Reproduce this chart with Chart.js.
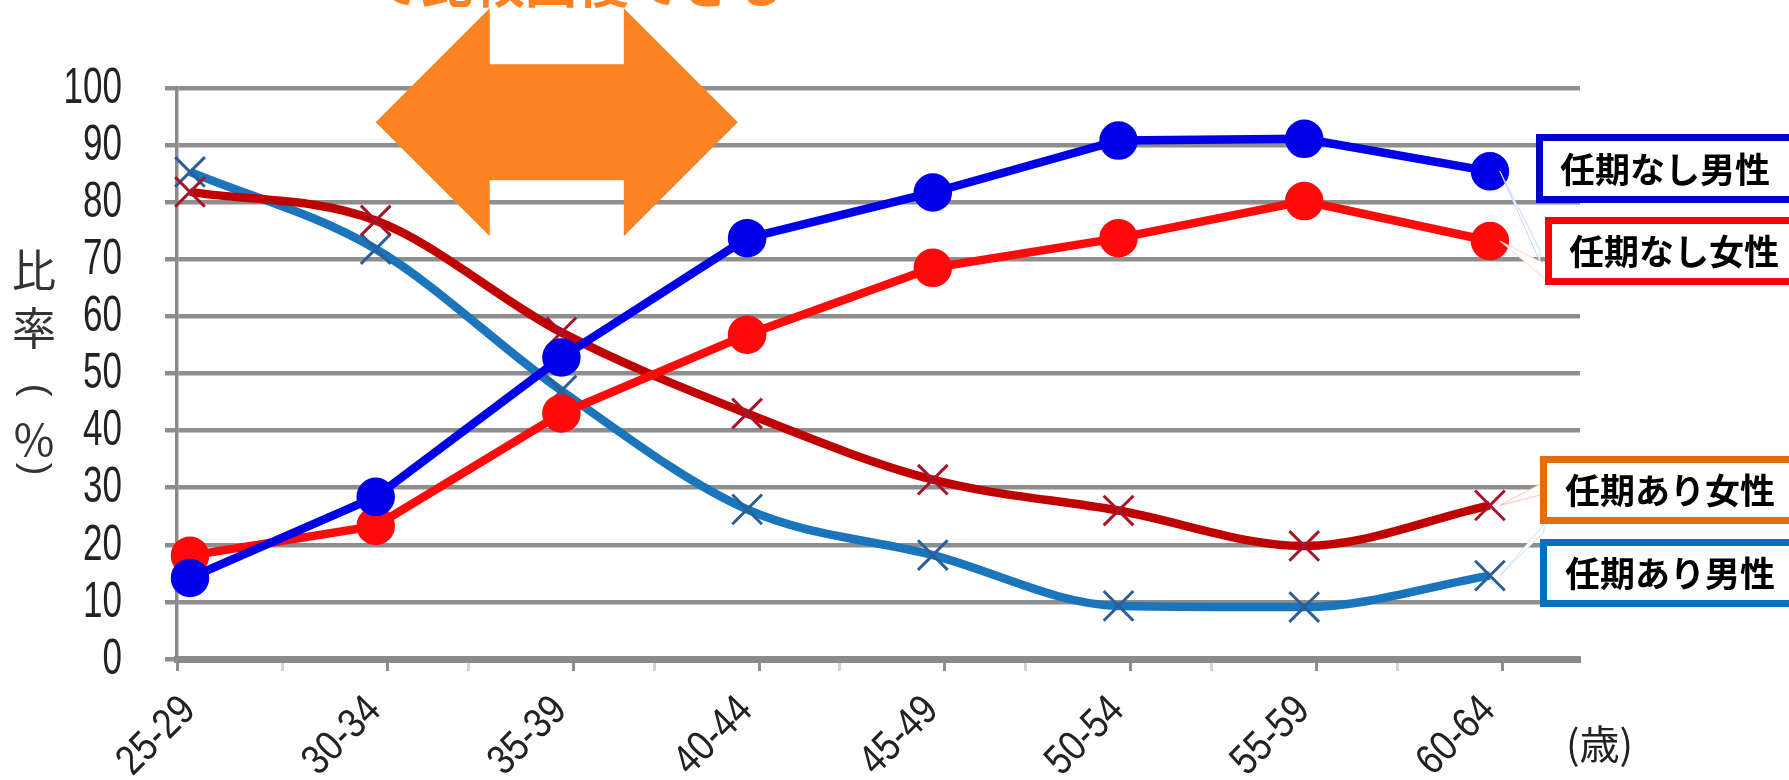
<!DOCTYPE html>
<html lang="ja">
<head>
<meta charset="utf-8">
<title>任期の有無別 比率</title>
<script src="https://cdn.jsdelivr.net/npm/chart.js@4.4.1/dist/chart.umd.min.js"></script>
<style>
  html, body { margin: 0; padding: 0; background: #fff; }
  #wrap { width: 1789px; height: 780px; }
</style>
</head>
<body>
<div id="wrap"><canvas id="chart" width="1789" height="780"></canvas></div>
<script>
// age groups on the x axis
const ageGroups = ["25-29", "30-34", "35-39", "40-44", "45-49", "50-54", "55-59", "60-64"];
const yTickValues = [0, 10, 20, 30, 40, 50, 60, 70, 80, 90, 100];

// share (%) per age group
const permanentMale = [14.2, 28.4, 52.8, 73.7, 81.7, 90.8, 91.1, 85.4];
const permanentFemale = [18.1, 23.3, 43.0, 56.8, 68.5, 73.7, 80.2, 73.2];
const fixedTermFemale = [81.8, 76.8, 57.2, 43.0, 31.4, 26.0, 19.8, 26.9];
const fixedTermMale = [85.3, 71.8, 47.0, 26.2, 18.2, 9.3, 9.1, 14.6];

const seriesNames = ["任期なし男性", "任期なし女性", "任期あり女性", "任期あり男性"];
const headline = "て比較回復できる";
// vertical axis title, top to bottom; brackets get turned on their side
const yTitle = ["比", "率", "(", "％", ")"];
const xUnit = "(歳)";

// span of the double arrow, in age-group index, and its height in %
const arrowSpan = [1, 2.95];
const arrowLevel = 94;

const X_MIN = -0.07;
const X_MAX = 7.485;
const TICK_SHIFT = 0.065; // major tick marks sit a little right of the points

const ORANGE = "#fd8224";
const GRID = "#8e8e8e";
const TEXT_FONT = "'Liberation Sans', Arial, sans-serif";
const JP_FONT = "'Noto Sans CJK JP', sans-serif";

const toPoints = (values) => values.map((v, i) => ({ x: i, y: v }));
const majorTick = (i) => (i === 0 ? X_MIN : i + TICK_SHIFT);

/*************************************************************
 * Tick labels (narrow digits)
 *************************************************************/
const tickLabelPlugin = {
  id: "tickLabels",
  afterDraw(chart) {
    const { ctx, scales } = chart;
    ctx.save();
    ctx.fillStyle = "#222222";

    ctx.font = `50px ${TEXT_FONT}`;
    ctx.textAlign = "right";
    ctx.textBaseline = "middle";
    yTickValues.forEach((v) => {
      ctx.save();
      ctx.translate(122, scales.y.getPixelForValue(v) + 1);
      ctx.scale(0.7, 1);
      ctx.fillText(String(v), 0, 0);
      ctx.restore();
    });

    ctx.font = `42px ${TEXT_FONT}`;
    ctx.textBaseline = "middle";
    ageGroups.forEach((label, i) => {
      ctx.save();
      ctx.translate(scales.x.getPixelForValue(i) - 1, 704);
      ctx.rotate(-Math.PI / 4);
      ctx.scale(0.85, 1);
      ctx.fillText(label, 0, 0);
      ctx.restore();
    });
    ctx.restore();
  },
};

/*************************************************************
 * Callout boxes at the right
 *************************************************************/
const callouts = [
  { text: seriesNames[0], color: "#0000cc", series: 0, box: [1536, 134, 69], textX: 1560, wedge: [250, 262], edge: "#c8d4ff" },
  { text: seriesNames[1], color: "#ff0000", series: 1, box: [1545, 217, 68], textX: 1569, wedge: [266, 282], edge: "#ffd0c8" },
  { text: seriesNames[2], color: "#e46c0a", series: 2, box: [1540, 456, 68], textX: 1565, wedge: [482, 494], edge: "#ffc0b0" },
  { text: seriesNames[3], color: "#0070c0", series: 3, box: [1540, 539, 68], textX: 1565, wedge: [524, 532], edge: "#c0e0ff" },
];

const calloutPlugin = {
  id: "callouts",
  afterDraw(chart) {
    const ctx = chart.ctx;
    ctx.save();

    callouts.forEach((c) => {
      const meta = chart.getDatasetMeta(c.series);
      const last = meta.data[meta.data.length - 1];
      const [bx, by, bh] = c.box;

      // faint wedge from the last point to the box
      ctx.beginPath();
      ctx.moveTo(last.x + 10, last.y);
      ctx.lineTo(bx + 4, c.wedge[0]);
      ctx.lineTo(bx + 4, c.wedge[1]);
      ctx.closePath();
      ctx.fillStyle = "#ffffff";
      ctx.fill();
      ctx.lineWidth = 1;
      ctx.strokeStyle = c.edge;
      ctx.stroke();

      // box
      ctx.fillStyle = "#ffffff";
      ctx.fillRect(bx, by, 1789 - bx + 10, bh);
      ctx.lineWidth = 7;
      ctx.strokeStyle = c.color;
      ctx.strokeRect(bx + 3.5, by + 3.5, 1789 - bx + 10, bh - 7);

      ctx.fillStyle = "#000000";
      ctx.font = `bold 35px ${JP_FONT}`;
      ctx.textAlign = "left";
      ctx.textBaseline = "middle";
      ctx.fillText(c.text, c.textX, by + bh / 2 + 1);
    });

    ctx.restore();
  },
};

/*************************************************************
 * Double arrow and headline
 *************************************************************/
const arrowPlugin = {
  id: "rangeArrow",
  afterDatasetsDraw(chart) {
    const { ctx, scales } = chart;
    const left = scales.x.getPixelForValue(arrowSpan[0]);
    const right = scales.x.getPixelForValue(arrowSpan[1]);
    const cy = scales.y.getPixelForValue(arrowLevel);
    const head = 114;
    const shaft = 58;

    ctx.save();
    ctx.fillStyle = ORANGE;
    ctx.beginPath();
    ctx.moveTo(left, cy);
    ctx.lineTo(left + head, cy - head);
    ctx.lineTo(left + head, cy - shaft);
    ctx.lineTo(right - head, cy - shaft);
    ctx.lineTo(right - head, cy - head);
    ctx.lineTo(right, cy);
    ctx.lineTo(right - head, cy + head);
    ctx.lineTo(right - head, cy + shaft);
    ctx.lineTo(left + head, cy + shaft);
    ctx.lineTo(left + head, cy + head);
    ctx.closePath();
    ctx.fill();

    ctx.font = `bold 52px ${JP_FONT}`;
    ctx.textAlign = "left";
    ctx.textBaseline = "alphabetic";
    ctx.fillText(headline, 369, 3);
    ctx.restore();
  },
};

/*************************************************************
 * Axis titles
 *************************************************************/
const axisTitlePlugin = {
  id: "axisTitles",
  afterDraw(chart) {
    const ctx = chart.ctx;
    const centers = [270, 328, 390, 440, 469];

    ctx.save();
    ctx.fillStyle = "#333333";
    ctx.textAlign = "center";
    ctx.textBaseline = "middle";
    yTitle.forEach((ch, i) => {
      ctx.save();
      ctx.translate(34, centers[i]);
      if (ch === "(" || ch === ")") {
        ctx.rotate(Math.PI / 2);
        ctx.font = `38px ${TEXT_FONT}`;
      } else {
        ctx.font = `44px ${JP_FONT}`;
      }
      ctx.fillText(ch, 0, 0);
      ctx.restore();
    });

    ctx.fillStyle = "#222222";
    ctx.font = `40px ${JP_FONT}`;
    ctx.textAlign = "left";
    ctx.fillText(xUnit, 1566, 744);
    ctx.restore();
  },
};

const lineSeries = (label, values, color, extra) => ({
  label,
  data: toPoints(values),
  borderColor: color,
  backgroundColor: color,
  borderWidth: 8.5,
  pointBorderColor: color,
  pointBackgroundColor: color,
  pointHoverRadius: 0,
  clip: false,
  ...extra,
});

new Chart(document.getElementById("chart"), {
  type: "line",
  data: {
    datasets: [
      lineSeries(seriesNames[0], permanentMale, "#0000e8", { pointRadius: 15 }),
      lineSeries(seriesNames[1], permanentFemale, "#ff0a0a", { pointRadius: 15 }),
      lineSeries(seriesNames[2], fixedTermFemale, "#c00000", {
        pointStyle: "crossRot",
        pointRadius: 21,
        pointBorderWidth: 3,
        pointBorderColor: "#a8122a",
        cubicInterpolationMode: "monotone",
      }),
      lineSeries(seriesNames[3], fixedTermMale, "#1a75bc", {
        pointStyle: "crossRot",
        pointRadius: 21,
        pointBorderWidth: 3,
        pointBorderColor: "#2a5f98",
        cubicInterpolationMode: "monotone",
      }),
    ],
  },
  options: {
    responsive: false,
    animation: false,
    devicePixelRatio: 1,
    layout: { padding: { top: 88, right: 209, left: 0, bottom: 0 } },
    plugins: {
      legend: { display: false },
      tooltip: { enabled: false },
    },
    scales: {
      x: {
        type: "linear",
        min: X_MIN,
        max: X_MAX,
        afterBuildTicks: (scale) => {
          const ticks = [];
          ageGroups.forEach((_, i) => {
            ticks.push({ value: majorTick(i), major: true });
            if (i < ageGroups.length - 1) ticks.push({ value: i + 0.5, major: false });
          });
          scale.ticks = ticks;
        },
        afterFit: (scale) => {
          scale.height = 121;
        },
        ticks: { display: false },
        grid: {
          drawOnChartArea: false,
          drawTicks: true,
          tickLength: 12,
          tickWidth: 3,
          tickColor: (ctx) => (ctx.tick && ctx.tick.major ? GRID : "#d4d4d4"),
        },
        border: { display: true, color: "#8a8a8a", width: 7 },
      },
      y: {
        min: 0,
        max: 100,
        afterBuildTicks: (scale) => {
          scale.ticks = yTickValues.map((v) => ({ value: v }));
        },
        afterFit: (scale) => {
          scale.width = 177;
        },
        ticks: { display: false },
        grid: {
          color: GRID,
          lineWidth: 4.5,
          drawTicks: true,
          tickLength: 12,
        },
        border: { display: true, color: "#8a8a8a", width: 3.5 },
      },
    },
  },
  plugins: [arrowPlugin, calloutPlugin, axisTitlePlugin, tickLabelPlugin],
});
</script>
</body>
</html>
